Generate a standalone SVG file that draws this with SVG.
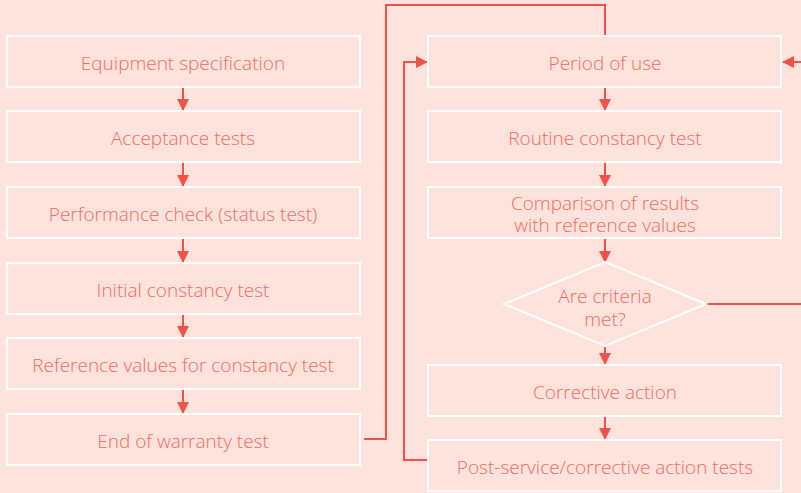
<svg xmlns="http://www.w3.org/2000/svg" width="801" height="493" viewBox="0 0 801 493">
  <style>
    .box { fill: none; stroke: #ffffff; stroke-width: 2; }
    .lbl { font-family: "Open Sans", "Liberation Sans", sans-serif; font-weight: 300; font-size: 19px; fill: #f06a62; text-anchor: middle; }
    .wire { fill: none; stroke: #f0524a; stroke-width: 2; }
  </style>
  <defs>
    <marker id="head" viewBox="0 0 12 12" refX="11" refY="6" markerWidth="12" markerHeight="12" markerUnits="userSpaceOnUse" orient="auto">
      <path d="M0,0 L12,6 L0,12 Z" fill="#f0524a"/>
    </marker>
  </defs>
  <rect width="801" height="493" fill="#fde3dc"/>

  <g id="connectors">
    <!-- left column steps -->
    <path class="wire" d="M183,88 V110" marker-end="url(#head)"/>
    <path class="wire" d="M183,163 V186" marker-end="url(#head)"/>
    <path class="wire" d="M183,239 V262" marker-end="url(#head)"/>
    <path class="wire" d="M183,315 V337" marker-end="url(#head)"/>
    <path class="wire" d="M183,390 V413" marker-end="url(#head)"/>
    <!-- right column steps -->
    <path class="wire" d="M605,88 V110" marker-end="url(#head)"/>
    <path class="wire" d="M605,163 V186" marker-end="url(#head)"/>
    <path class="wire" d="M605,239 V262" marker-end="url(#head)"/>
    <path class="wire" d="M605,347 V364" marker-end="url(#head)"/>
    <path class="wire" d="M605,417 V439" marker-end="url(#head)"/>
    <!-- end of warranty to period of use -->
    <path class="wire" d="M364,439 H386 V5 H605 V35"/>
    <!-- post-service back to period of use -->
    <path class="wire" d="M428,460 H404 V62 H427" marker-end="url(#head)"/>
    <!-- criteria met: loop back -->
    <path class="wire" d="M706,304 H806 V62 H783" marker-end="url(#head)"/>
  </g>

  <g id="equipment-specification">
    <rect class="box" x="7" y="36" width="353" height="51"/>
    <text class="lbl" x="183" y="70">Equipment specification</text>
  </g>
  <g id="acceptance-tests">
    <rect class="box" x="7" y="111" width="353" height="51"/>
    <text class="lbl" x="183" y="145">Acceptance tests</text>
  </g>
  <g id="performance-check">
    <rect class="box" x="7" y="187" width="353" height="51"/>
    <text class="lbl" x="183" y="221">Performance check (status test)</text>
  </g>
  <g id="initial-constancy-test">
    <rect class="box" x="7" y="263" width="353" height="51"/>
    <text class="lbl" x="183" y="297">Initial constancy test</text>
  </g>
  <g id="reference-values">
    <rect class="box" x="7" y="338" width="353" height="51"/>
    <text class="lbl" x="183" y="372">Reference values for constancy test</text>
  </g>
  <g id="end-of-warranty-test">
    <rect class="box" x="7" y="414" width="353" height="51"/>
    <text class="lbl" x="183" y="448">End of warranty test</text>
  </g>

  <g id="period-of-use">
    <rect class="box" x="428" y="36" width="353" height="51"/>
    <text class="lbl" x="605" y="70">Period of use</text>
  </g>
  <g id="routine-constancy-test">
    <rect class="box" x="428" y="111" width="353" height="51"/>
    <text class="lbl" x="605" y="145">Routine constancy test</text>
  </g>
  <g id="comparison-of-results">
    <rect class="box" x="428" y="187" width="353" height="51"/>
    <text class="lbl" x="605" y="210">Comparison of results</text>
    <text class="lbl" x="605" y="232">with reference values</text>
  </g>
  <g id="criteria-met">
    <polygon class="box" points="605,262 706,304 605,346 504,304"/>
    <text class="lbl" x="605" y="303">Are criteria</text>
    <text class="lbl" x="605" y="326">met?</text>
  </g>
  <g id="corrective-action">
    <rect class="box" x="428" y="365" width="353" height="51"/>
    <text class="lbl" x="605" y="399">Corrective action</text>
  </g>
  <g id="post-service-tests">
    <rect class="box" x="428" y="440" width="353" height="51"/>
    <text class="lbl" x="605" y="474">Post-service/corrective action tests</text>
  </g>
</svg>
